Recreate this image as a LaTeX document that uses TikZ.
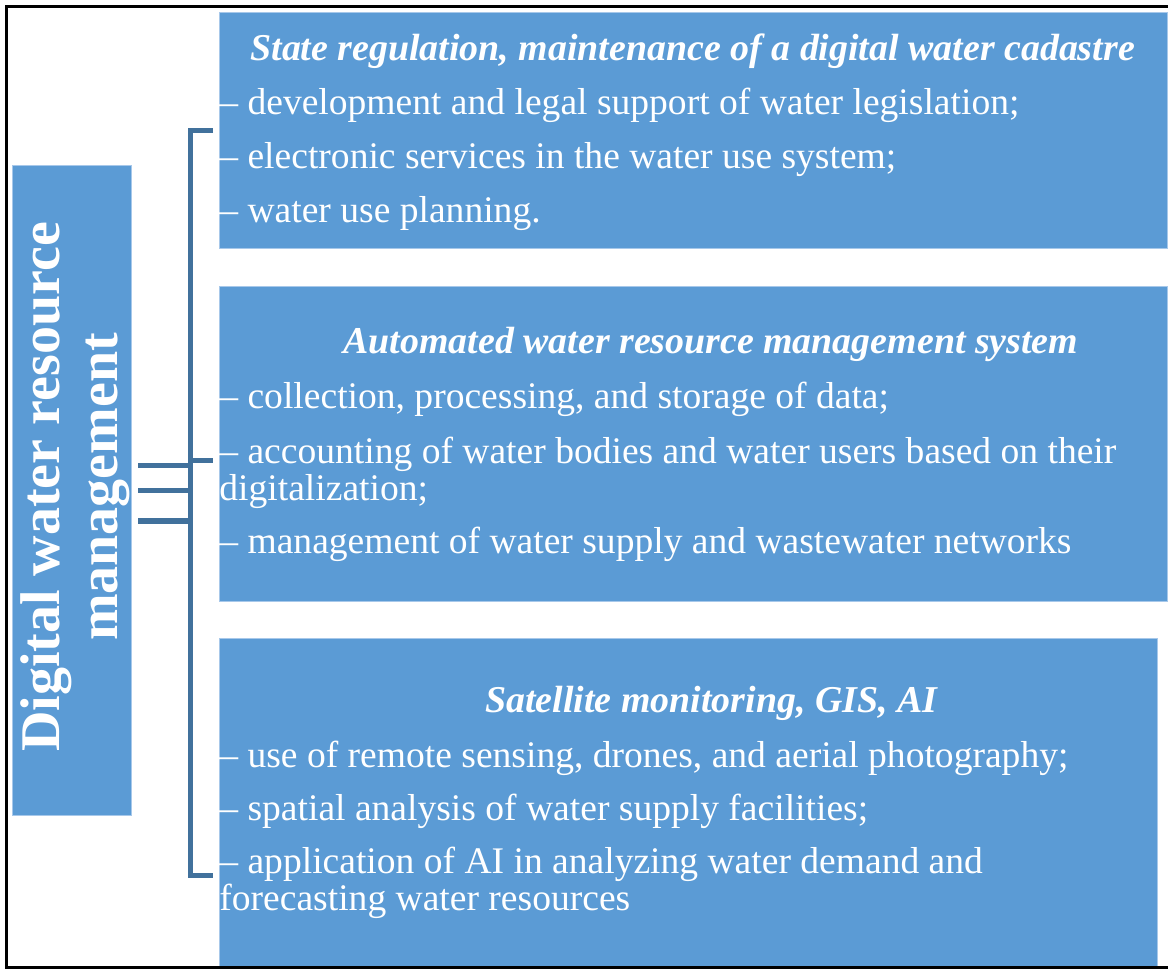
\documentclass[tikz,border=0pt]{standalone}
\usepackage{fontspec}
\setmainfont{Liberation Serif}
\definecolor{boxblue}{HTML}{5B9BD5}
\definecolor{boxedge}{HTML}{A7C8EA}
\definecolor{brk}{HTML}{41719C}
\begin{document}
\begin{tikzpicture}[x=0.5pt,y=-0.5pt,
  panel/.style={draw=boxedge, line width=0.6pt, fill=boxblue, inner sep=0pt, anchor=north west},
  head/.style={anchor=base west, inner sep=0pt, text=white,
    font=\fontsize{18.95}{22}\selectfont\bfseries\itshape},
  item/.style={anchor=base west, inner sep=0pt, text=white,
    font=\fontsize{18.78}{22}\selectfont},
  sidelabel/.style={anchor=base, inner sep=0pt, text=white, rotate=90,
    font=\fontsize{28}{29}\selectfont\bfseries},
  brace/.style={draw=brk, line width=2.6pt, line join=miter},
]
\useasboundingbox (0,0) rectangle (1168,970);
\clip (0,0) rectangle (1168,970);
\fill[white] (0,0) rectangle (1168,970);

% panels
\node[panel, minimum width=59.5pt, minimum height=325pt] (side) at (12,165) {};
\node[panel, minimum width=474pt, minimum height=118pt] (p1) at (219,12) {};
\node[panel, minimum width=474pt, minimum height=157.5pt] (p2) at (219,286) {};
\node[panel, minimum width=469pt, minimum height=165pt] (p3) at (219,638) {};

% rotated heading of the left panel
\node[sidelabel] (s1) at (60,487) {Digital water resource};
\node[sidelabel] (s2) at (117,487) {management};

% bracket joining the left panel to the three panels
\coordinate (btop) at (213,130.5);
\coordinate (bmid) at (213,460.5);
\coordinate (bbot) at (213,875.5);
\coordinate (vtop) at (190.5,130.5);
\coordinate (vmid) at (190.5,460.5);
\coordinate (vbot) at (190.5,875.5);
\draw[brace] (btop) -- (vtop) -- (vbot) -- (bbot);
\draw[brace] (vmid) -- (bmid);
\foreach \yy/\nm in {465.5/a,490.5/b,521/c}{
  \coordinate (l\nm) at (side.east |- 0,\yy);
  \draw[brace] ([xshift=3pt]l\nm) -- (190.5,\yy);
}

% first panel
\node[head] (h1) at (250,60.7) {State regulation, maintenance of a digital water cadastre};
\node[item] (a1) at (219,114) {– development and legal support of water legislation;};
\node[item] (a2) at (219,168) {– electronic services in the water use system;};
\node[item] (a3) at (219,222.5) {– water use planning.};

% second panel
\node[head] (h2) at (343,353) {Automated water resource management system};
\node[item] (b1) at (219,408) {– collection, processing, and storage of data;};
\node[item] (b2) at (219,463) {– accounting of water bodies and water users based on their};
\node[item] (b3) at (219,500) {digitalization;};
\node[item] (b4) at (219,553) {– management of water supply and wastewater networks};

% third panel
\node[head] (h3) at (485,712) {Satellite monitoring, GIS, AI};
\node[item] (c1) at (219,767) {– use of remote sensing, drones, and aerial photography;};
\node[item] (c2) at (219,820) {– spatial analysis of water supply facilities;};
\node[item] (c3) at (219,873) {– application of AI in analyzing water demand and};
\node[item] (c4) at (219,910) {forecasting water resources};

% outer frame (its right side runs past the page edge)
\draw[line width=1.5pt] (6,6) rectangle (1185,967.5);
\end{tikzpicture}
\end{document}
